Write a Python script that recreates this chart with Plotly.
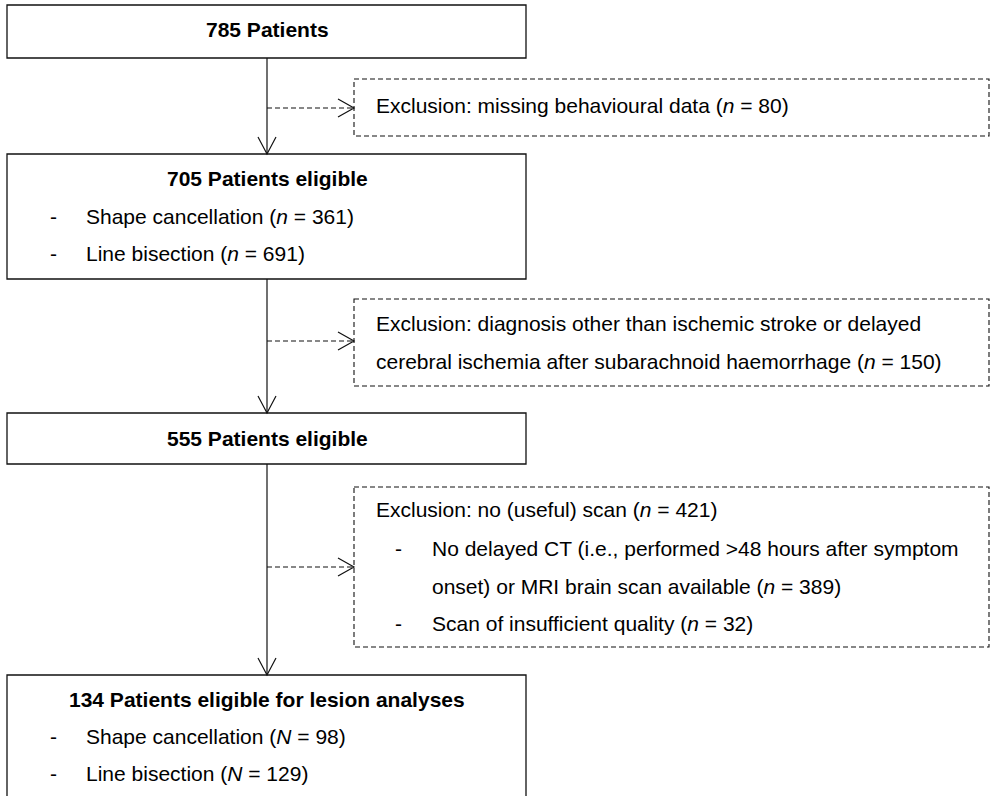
import plotly.graph_objects as go

# ---- data (texts and counts) ----
main_titles = ["785 Patients", "705 Patients eligible", "555 Patients eligible",
               "134 Patients eligible for lesion analyses"]
box2_items = ["Shape cancellation", "Line bisection"]
box2_sym = ["n", "n"]
box2_vals = [361, 691]
box4_items = ["Shape cancellation", "Line bisection"]
box4_sym = ["N", "N"]
box4_vals = [98, 129]
excl1_text = ["Exclusion: missing behavioural data"]
excl1_vals = [80]
excl2_text = ["Exclusion: diagnosis other than ischemic stroke or delayed",
              "cerebral ischemia after subarachnoid haemorrhage"]
excl2_vals = [150]
excl3_head = "Exclusion: no (useful) scan"
excl3_head_val = 421
excl3_items = ["No delayed CT (i.e., performed >48 hours after symptom",
               "onset) or MRI brain scan available",
               "Scan of insufficient quality"]
excl3_vals = [389, 32]

# ---- layout geometry (pixels) ----
W, H = 992, 796
FONT = "Liberation Sans, Arial, Helvetica, sans-serif"
FS = 21
BX0, BX1 = 7, 526
CX = 267
EX0, EX1 = 354, 989
DASH = "5px,3px"

fig = go.Figure()
shapes = []
ann = []


def rect(x0, y0, x1, y1, dashed=False):
    shapes.append(dict(type="rect", xref="x", yref="y", x0=x0, x1=x1, y0=y0, y1=y1,
                       line=dict(color="#111111", width=1.3 if not dashed else 1.1,
                                 dash=DASH if dashed else "solid"),
                       fillcolor="rgba(0,0,0,0)", layer="above"))


def line(x0, y0, x1, y1, dashed=False):
    shapes.append(dict(type="line", xref="x", yref="y", x0=x0, x1=x1, y0=y0, y1=y1,
                       line=dict(color="#111111", width=1.2,
                                 dash=DASH if dashed else "solid")))


def path(d):
    shapes.append(dict(type="path", xref="x", yref="y", path=d,
                       line=dict(color="#111111", width=1.2)))


def text(x, y, s, anchor="left", bold=False):
    if bold:
        s = "<b>" + s + "</b>"
    ann.append(dict(x=x, y=y, xref="x", yref="y", text=s, showarrow=False,
                    xanchor=anchor, yanchor="middle",
                    font=dict(family=FONT, size=FS, color="#000000")))


def down_arrow(y_tip):
    path(f"M {CX-9} {y_tip-17} L {CX} {y_tip} L {CX+9} {y_tip-17}")


def right_arrow(y):
    line(CX, y, EX0, y, dashed=True)
    path(f"M {EX0-16} {y-9} L {EX0} {y} L {EX0-16} {y+9}")


# main boxes
rect(BX0, 5, BX1, 58)
text(CX, 29, main_titles[0], "center", True)

rect(BX0, 154, BX1, 279)
text(CX, 178, main_titles[1], "center", True)
for i, y in enumerate([216, 253]):
    text(48, y, "-")
    text(84, y, f"{box2_items[i]} (<i>{box2_sym[i]}</i> = {box2_vals[i]})")

rect(BX0, 413, BX1, 464)
text(CX, 438, main_titles[2], "center", True)

rect(BX0, 675, BX1, 805)
text(CX, 699, main_titles[3], "center", True)
for i, y in enumerate([736, 773]):
    text(48, y, "-")
    text(84, y, f"{box4_items[i]} (<i>{box4_sym[i]}</i> = {box4_vals[i]})")

# vertical connectors
line(CX, 58, CX, 154)
down_arrow(154)
line(CX, 279, CX, 413)
down_arrow(413)
line(CX, 464, CX, 675)
down_arrow(675)

# exclusion boxes
rect(EX0, 79, EX1, 136, dashed=True)
right_arrow(108)
text(374, 105, f"{excl1_text[0]} (<i>n</i> = {excl1_vals[0]})")

rect(EX0, 299, EX1, 386, dashed=True)
right_arrow(341)
text(374, 323, excl2_text[0])
text(374, 361, f"{excl2_text[1]} (<i>n</i> = {excl2_vals[0]})")

rect(EX0, 487, EX1, 647, dashed=True)
right_arrow(567)
text(374, 509, f"{excl3_head} (<i>n</i> = {excl3_head_val})")
text(393, 548, "-")
text(430, 548, excl3_items[0])
text(430, 586, f"{excl3_items[1]} (<i>n</i> = {excl3_vals[0]})")
text(393, 623, "-")
text(430, 623, f"{excl3_items[2]} (<i>n</i> = {excl3_vals[1]})")

fig.update_layout(
    width=W, height=H, autosize=False,
    margin=dict(l=0, r=0, t=0, b=0, pad=0),
    paper_bgcolor="white", plot_bgcolor="white",
    xaxis=dict(range=[0, W], visible=False, fixedrange=True),
    yaxis=dict(range=[H, 0], visible=False, fixedrange=True),
    shapes=shapes, annotations=ann, showlegend=False,
)

fig.write_html("out.html", config={"displayModeBar": False},
               post_script="document.body.style.margin='0';")
